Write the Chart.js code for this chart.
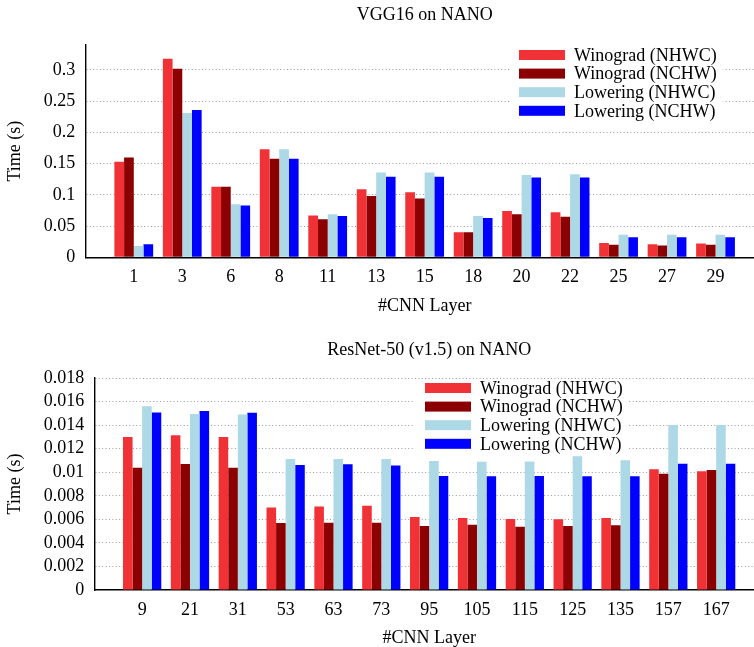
<!DOCTYPE html>
<html>
<head>
<meta charset="utf-8">
<script src="https://cdn.jsdelivr.net/npm/chart.js@4/dist/chart.umd.min.js"></script>
<style>
html,body{margin:0;padding:0;background:#fff;overflow:hidden;width:754px;height:647px;}
canvas{display:block;}
</style>
</head>
<body>
<canvas id="c1" width="773" height="325"></canvas>
<canvas id="c2" width="773" height="325"></canvas>
<script>
// ---- data ----
const seriesNames = ['Winograd (NHWC)', 'Winograd (NCHW)', 'Lowering (NHWC)', 'Lowering (NCHW)'];

const vggLayers = ['1','3','6','8','11','13','15','18','20','22','25','27','29'];
const vggWinoNHWC = [0.153,0.318,0.113,0.173,0.067,0.109,0.104,0.040,0.074,0.072,0.023,0.021,0.022];
const vggWinoNCHW = [0.160,0.302,0.113,0.158,0.061,0.098,0.094,0.040,0.069,0.065,0.020,0.019,0.020];
const vggLowNHWC  = [0.018,0.231,0.085,0.173,0.069,0.136,0.136,0.066,0.132,0.133,0.036,0.036,0.036];
const vggLowNCHW  = [0.021,0.236,0.083,0.158,0.066,0.129,0.129,0.063,0.128,0.128,0.032,0.032,0.032];
const vggYTicks = [0,0.05,0.1,0.15,0.2,0.25,0.3];

const resLayers = ['9','21','31','53','63','73','95','105','115','125','135','157','167'];
const resWinoNHWC = [0.0130,0.01313,0.0130,0.0070,0.0071,0.00716,0.0062,0.00611,0.00603,0.0060,0.00611,0.01025,0.01008];
const resWinoNCHW = [0.01038,0.0107,0.01038,0.00569,0.00571,0.00571,0.00543,0.00555,0.00538,0.00543,0.00549,0.00987,0.01019];
const resLowNHWC  = [0.0156,0.01494,0.01491,0.01112,0.01112,0.01112,0.01095,0.01089,0.01092,0.01135,0.01101,0.0140,0.0140];
const resLowNCHW  = [0.01508,0.0152,0.01505,0.01061,0.01067,0.01058,0.00968,0.00965,0.00968,0.00965,0.00965,0.01072,0.01072];
const resYTicks = [0,0.002,0.004,0.006,0.008,0.01,0.012,0.014,0.016,0.018];

// ---- styling ----
const colors = ['rgb(240,50,55)', '#8B0000', '#ADD8E6', '#0000FF'];
const FONT = 'Liberation Serif';
Chart.defaults.font.family = FONT;
Chart.defaults.font.size = 18;
Chart.defaults.color = '#000';

const boxLegend = {
  id: 'boxLegend',
  afterDatasetsDraw(chart, args, opts) {
    const ctx = chart.ctx;
    const top = chart.chartArea.top;
    const x0 = opts.x;
    ctx.save();
    ctx.font = '18px "' + FONT + '"';
    let maxW = 0;
    chart.data.datasets.forEach(ds => { maxW = Math.max(maxW, ctx.measureText(ds.label).width); });
    const rowY = i => top + 10 + i * 18.6;
    ctx.fillStyle = '#fff';
    ctx.fillRect(x0, top + 1, 65 + maxW + 6, rowY(3) + 11 - (top + 1));
    chart.data.datasets.forEach((ds, i) => {
      const y = rowY(i);
      ctx.fillStyle = ds.backgroundColor;
      ctx.fillRect(x0 + 10, y - 5, 46, 10);
      ctx.fillStyle = '#000';
      ctx.textBaseline = 'middle';
      ctx.textAlign = 'left';
      ctx.fillText(ds.label, x0 + 65, y + 1);
    });
    ctx.restore();
  }
};

function makeChart(id, cfg) {
  const labels = [''].concat(cfg.cats, ['']);
  const datasets = cfg.series.map((vals, i) => ({
    label: seriesNames[i],
    data: [null].concat(vals, [null]),
    backgroundColor: colors[i],
    borderWidth: 0,
    categoryPercentage: 0.8,
    barPercentage: 1.0
  }));
  return new Chart(document.getElementById(id), {
    type: 'bar',
    data: { labels, datasets },
    plugins: [boxLegend],
    options: {
      responsive: false,
      animation: false,
      layout: { padding: 0 },
      plugins: {
        legend: { display: false },
        tooltip: { enabled: false },
        title: {
          display: true, text: cfg.title, fullSize: false,
          font: { family: FONT, size: 18, weight: 'normal' },
          color: '#000',
          padding: { top: cfg.titlePadTop, bottom: cfg.titlePadBottom }
        },
        boxLegend: { x: cfg.legendX }
      },
      scales: {
        x: {
          offset: false,
          grid: { display: false, drawTicks: false },
          border: { display: true, color: '#000', width: 1.4 },
          ticks: { autoSkip: false, maxRotation: 0, minRotation: 0, padding: 9, color: '#000' },
          title: { display: true, text: '#CNN Layer', font: { family: FONT, size: 18 }, color: '#000', padding: { top: 0, bottom: cfg.xTitlePadBottom } },
          afterFit(s) { s.height = cfg.xAxisHeight; }
        },
        y: {
          min: 0, max: cfg.yMax,
          grid: {
            drawTicks: false,
            color: c => (c.tick && c.tick.value === 0) ? 'rgba(0,0,0,0)' : '#9a9a9a',
            lineWidth: 1
          },
          border: { display: true, color: '#000', width: 1.4, dash: [1, 2.4] },
          ticks: {
            padding: 10, color: '#000', autoSkip: false,
            callback: v => String(+Number(v).toFixed(6))
          },
          afterBuildTicks(s) { s.ticks = cfg.yTicks.map(v => ({ value: v })); },
          title: { display: true, text: 'Time (s)', font: { family: FONT, size: 18 }, color: '#000', padding: { top: 4.5, bottom: 0 } },
          afterFit(s) { s.width = cfg.yAxisWidth; }
        }
      }
    }
  });
}

makeChart('c1', {
  title: 'VGG16 on NANO',
  cats: vggLayers,
  series: [vggWinoNHWC, vggWinoNCHW, vggLowNHWC, vggLowNCHW],
  yMax: 0.34, yTicks: vggYTicks,
  titlePadTop: 4.2, titlePadBottom: 19.2,
  xAxisHeight: 67.7, xTitlePadBottom: 8.2,
  yAxisWidth: 85.3,
  legendX: 509
});

makeChart('c2', {
  title: 'ResNet-50 (v1.5) on NANO',
  cats: resLayers,
  series: [resWinoNHWC, resWinoNCHW, resLowNHWC, resLowNCHW],
  yMax: 0.018, yTicks: resYTicks,
  titlePadTop: 14.9, titlePadBottom: 16.5,
  xAxisHeight: 60, xTitlePadBottom: 0.9,
  yAxisWidth: 94.3,
  legendX: 415
});
</script>
</body>
</html>
